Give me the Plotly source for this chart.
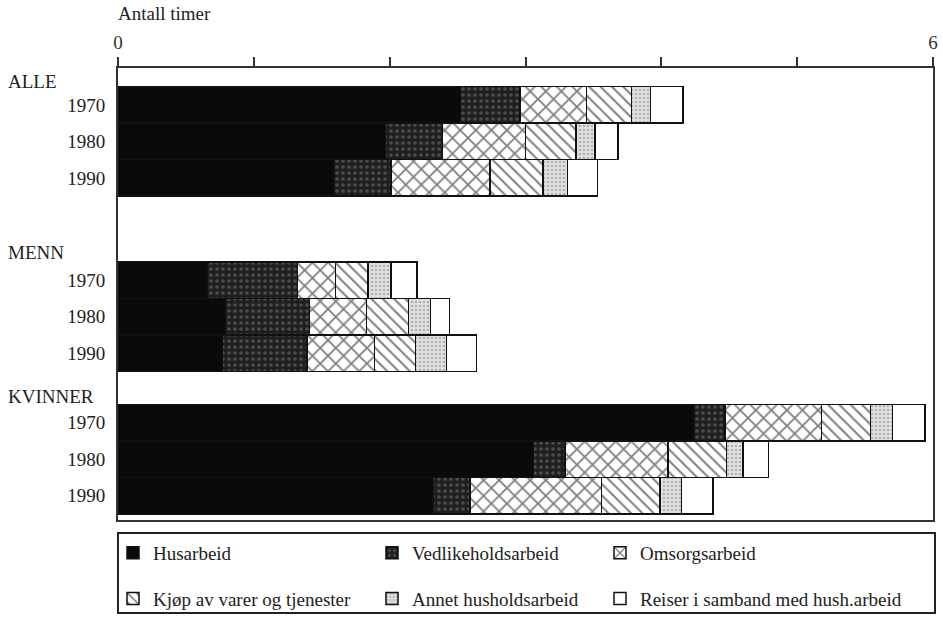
import plotly.graph_objects as go

# Data (hours per day)
rows = ["ALLE 1970", "ALLE 1980", "ALLE 1990",
        "MENN 1970", "MENN 1980", "MENN 1990",
        "KVINNER 1970", "KVINNER 1980", "KVINNER 1990"]
year_labels = ["1970", "1980", "1990"] * 3
group_labels = ["ALLE", "MENN", "KVINNER"]

husarbeid = [2.52, 1.97, 1.59, 0.66, 0.79, 0.77, 4.24, 3.06, 2.32]
vedlikehold = [0.44, 0.42, 0.42, 0.66, 0.62, 0.62, 0.23, 0.23, 0.27]
omsorg = [0.49, 0.61, 0.73, 0.28, 0.42, 0.50, 0.71, 0.76, 0.97]
kjop = [0.33, 0.37, 0.39, 0.24, 0.31, 0.30, 0.36, 0.43, 0.43]
annet = [0.14, 0.14, 0.18, 0.17, 0.16, 0.23, 0.16, 0.12, 0.16]
reiser = [0.24, 0.17, 0.22, 0.19, 0.14, 0.22, 0.24, 0.19, 0.23]

series_names = ["Husarbeid", "Vedlikeholdsarbeid", "Omsorgsarbeid",
                "Kjøp av varer og tjenester", "Annet husholdsarbeid",
                "Reiser i samband med hush.arbeid"]
series_values = [husarbeid, vedlikehold, omsorg, kjop, annet, reiser]
# legend column of each series (the reference legend is 3 columns x 2 rows)
legend_ids = ["legend", "legend2", "legend3", "legend", "legend2", "legend3"]

# layout positions of the rows (row units, top to bottom)
row_pos = [0, 1, 2, 4.8, 5.8, 6.8, 8.7, 9.7, 10.7]
group_pos = [-0.63, 4.05, 8.0]

styles = [
    dict(color="#0a0a0a", pattern=dict(shape="", fillmode="overlay")),
    dict(color="#1e1e1e", pattern=dict(shape=".", fgcolor="#7a7a7a", bgcolor="#1e1e1e", size=6, solidity=0.3, fillmode="overlay")),
    dict(color="white", pattern=dict(shape="x", fgcolor="black", bgcolor="white", size=11, solidity=0.3, fillmode="overlay")),
    dict(color="white", pattern=dict(shape="\\", fgcolor="black", bgcolor="white", size=8, solidity=0.25, fillmode="overlay")),
    dict(color="#e2e2e2", pattern=dict(shape=".", fgcolor="#808080", bgcolor="#e2e2e2", size=4, solidity=0.35, fillmode="overlay")),
    dict(color="white", pattern=dict(shape="", fillmode="overlay")),
]

FONT = "Liberation Serif"
W, H = 943, 622

fig = go.Figure()
for i, (name, vals, st, lg) in enumerate(zip(series_names, series_values, styles, legend_ids)):
    fig.add_trace(go.Bar(
        name=name, x=vals, y=row_pos, orientation="h", width=1.0,
        marker=dict(color=st["color"], pattern=st["pattern"],
                    line=dict(color="#111", width=1.5)),
        hovertext=rows, legend=lg, legendgroup=name,
    ))

legend_common = dict(orientation="v", xref="container", yref="container",
                     xanchor="left", yanchor="top", y=1 - 534 / H,
                     bgcolor="rgba(0,0,0,0)", borderwidth=0,
                     tracegroupgap=18, traceorder="grouped",
                     font=dict(family=FONT, size=19, color="#222"))

fig.update_layout(
    barmode="stack",
    width=W, height=H,
    margin=dict(l=118, r=10, t=68, b=102, autoexpand=False),
    paper_bgcolor="white", plot_bgcolor="white",
    font=dict(family=FONT, size=19, color="#222"),
    xaxis=dict(side="top", range=[0, 6], tickvals=[0, 1, 2, 3, 4, 5, 6],
               ticktext=["0", "", "", "", "", "", "6"],
               ticks="outside", ticklen=9, tickwidth=2, tickcolor="#333",
               ticklabelstandoff=0, automargin=False,
               showline=True, linecolor="#333", linewidth=2, mirror=True,
               showgrid=False, zeroline=False,
               tickfont=dict(family=FONT, size=19, color="#333")),
    yaxis=dict(range=[11.37, -1.01], tickvals=row_pos, ticktext=year_labels,
               ticks="", ticklabelstandoff=7, automargin=False,
               showline=True, linecolor="#333", linewidth=2, mirror=True,
               showgrid=False, zeroline=False,
               tickfont=dict(family=FONT, size=19, color="#222")),
    legend=dict(legend_common, x=113 / W),
    legend2=dict(legend_common, x=372 / W),
    legend3=dict(legend_common, x=600 / W),
    showlegend=True,
)

# legend frame
fig.add_shape(type="rect", xref="paper", yref="paper",
              x0=0, x1=(935 - 118) / 815, y0=(520 - 533) / 452, y1=(520 - 613) / 452,
              line=dict(color="#222", width=2), fillcolor="rgba(0,0,0,0)")

fig.add_annotation(text="Antall timer", xref="paper", yref="paper",
                   x=-0.003, y=1, yshift=42, xanchor="left", yanchor="bottom",
                   showarrow=False, font=dict(family=FONT, size=19, color="#222"))
for lab, yp in zip(group_labels, group_pos):
    fig.add_annotation(text=lab, xref="paper", yref="y", x=-0.138, y=yp,
                       xanchor="left", yanchor="middle", showarrow=False,
                       font=dict(family=FONT, size=19, color="#222"))

fig.write_html("out.html", config={"displayModeBar": False})

# remove the browser's default page margin so the figure sits at (0, 0)
with open("out.html", encoding="utf-8") as f:
    html = f.read()
html = html.replace("<head>", "<head><style>html,body{margin:0;padding:0;}</style>", 1)
with open("out.html", "w", encoding="utf-8") as f:
    f.write(html)
